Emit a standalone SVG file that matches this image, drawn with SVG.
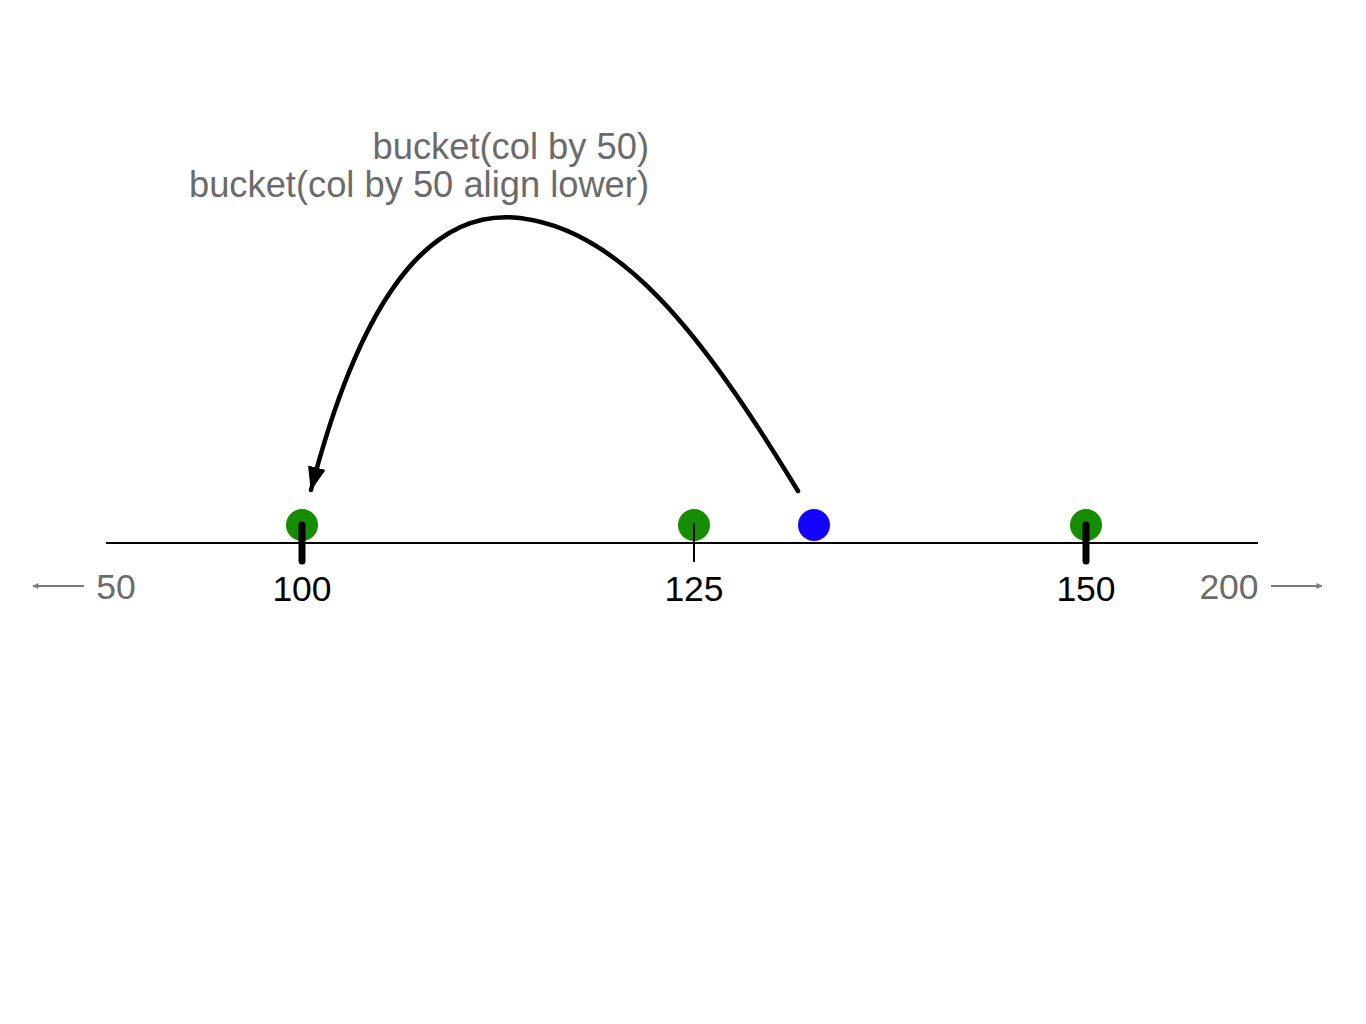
<svg xmlns="http://www.w3.org/2000/svg" width="1366" height="1024" viewBox="0 0 1366 1024">
<style>
.lbl{font-family:"Liberation Sans",Arial,sans-serif;font-size:35.5px;text-anchor:middle;fill:#000}
.gray{fill:#6b6b6b}
.title{font-family:"Liberation Sans",Arial,sans-serif;font-size:36.3px;fill:#6b6b6b;text-anchor:end}
.green{fill:#168c00}
.blue{fill:#1400ff}
</style>
<defs>
<marker id="big" viewBox="0 0 24 18" refX="23" refY="9" markerWidth="24" markerHeight="18" markerUnits="userSpaceOnUse" orient="auto">
<path d="M0,0 L24,9 L0,18 z" fill="#000"/>
</marker>
<marker id="sm" viewBox="0 0 10 10" refX="9" refY="5" markerWidth="8" markerHeight="6" markerUnits="userSpaceOnUse" orient="auto">
<path d="M0,0 L10,5 L0,10 z" fill="#7a7a7a"/>
</marker>
</defs>
<rect width="1366" height="1024" fill="#fff"/>
<g id="axis">
<line x1="106" y1="543" x2="1258" y2="543" stroke="#000" stroke-width="2"/>
<line x1="84" y1="586" x2="33" y2="586" stroke="#7a7a7a" stroke-width="2" marker-end="url(#sm)"/>
<line x1="1271" y1="586" x2="1322" y2="586" stroke="#7a7a7a" stroke-width="2" marker-end="url(#sm)"/>
<text class="lbl gray" x="116" y="599">50</text>
<text class="lbl gray" x="1229" y="599">200</text>
</g>
<g id="node-100">
<circle class="green" cx="302" cy="525" r="16"/>
<line x1="302" y1="525" x2="302" y2="561" stroke="#000" stroke-width="7" stroke-linecap="round"/>
<text class="lbl" x="302" y="601">100</text>
</g>
<g id="node-125">
<circle class="green" cx="694" cy="525" r="16"/>
<line x1="694" y1="523" x2="694" y2="562" stroke="#000" stroke-width="2"/>
<text class="lbl" x="694" y="601">125</text>
</g>
<g id="node-150">
<circle class="green" cx="1086" cy="525" r="16"/>
<line x1="1086" y1="525" x2="1086" y2="561" stroke="#000" stroke-width="7" stroke-linecap="round"/>
<text class="lbl" x="1086" y="601">150</text>
</g>
<g id="node-value">
<circle class="blue" cx="814" cy="525" r="16"/>
</g>
<g id="label">
<text class="title" x="649" y="159">bucket(col by 50)</text>
<text class="title" x="649" y="197">bucket(col by 50 align lower)</text>
</g>
<g id="connectors">
<path d="M798,491 C700,330 620,230 520,218 C420,206 355,320 311,490" fill="none" stroke="#000" stroke-width="4.5" stroke-linecap="round" marker-end="url(#big)"/>
</g>
</svg>
